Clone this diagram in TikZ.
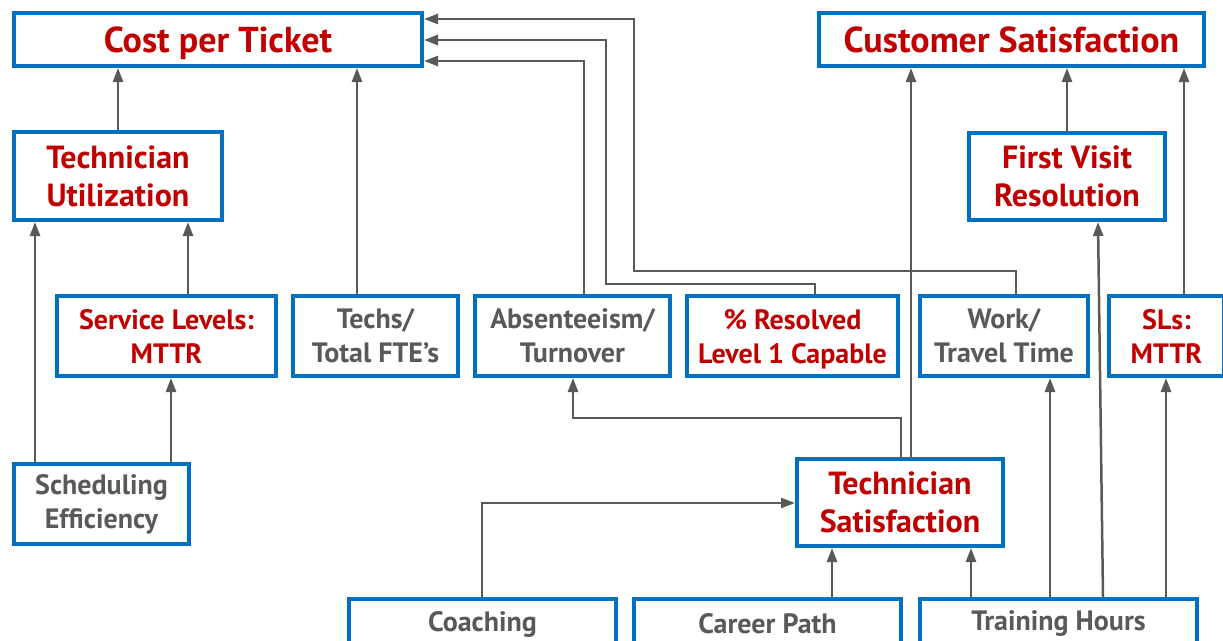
\documentclass[tikz,border=0pt]{standalone}
\usepackage{fontspec}
\setmainfont{PT Sans}
\usetikzlibrary{arrows.meta}
\definecolor{boxblue}{RGB}{0,112,192}
\definecolor{txtred}{RGB}{192,0,0}
\definecolor{txtgray}{RGB}{89,89,89}
\definecolor{arrgray}{RGB}{89,89,89}
\newcommand\mybox[7]{\node[boxstyle,#6,minimum width={(#4-#2-4)*1pt},minimum height={(#5-#3-4)*1pt}] (#1) at ({(#2+#4)/2},{(#3+#5)/2}) {#7};}
\tikzset{
  boxstyle/.style={draw=boxblue, line width=4pt, align=center, inner sep=0pt},
  redt/.style={text=txtred},
  grayt/.style={text=txtgray},
  bigf/.style={font=\bfseries\fontsize{36}{43}\selectfont},
  midf/.style={font=\bfseries\fontsize{32}{38}\selectfont},
  smallf/.style={font=\bfseries\fontsize{28}{34}\selectfont},
  arr/.style={draw=arrgray, line width=2.5pt, -{Triangle[length=14pt,width=10pt]}}
}
\begin{document}
\begin{tikzpicture}[x=1pt,y=-1pt]
\useasboundingbox (0,0) rectangle (1223,640);
\clip (0,0) rectangle (1223,640);
\fill[white] (0,0) rectangle (1223,640);
% nodes
\mybox{cpt}{12}{11}{424}{68}{redt,bigf,text depth=0pt}{Cost per Ticket}
\mybox{cs}{817}{11}{1206}{68}{redt,bigf}{Customer Satisfaction}
\mybox{tu}{12}{130}{224}{222}{redt,midf}{Technician\\Utilization}
\mybox{fvr}{967}{131}{1167}{222}{redt,midf}{First Visit\\Resolution}
\mybox{sl}{55}{294}{278}{378}{redt,smallf}{Service Levels:\\MTTR}
\mybox{techs}{291}{294}{460}{378}{grayt,smallf}{Techs/\\Total FTE’s}
\mybox{abs}{473}{294}{672}{378}{grayt,smallf}{Absenteeism/\\Turnover}
\mybox{res}{685}{294}{900}{378}{redt,smallf,text depth=0pt}{\% Resolved\\Level 1 Capable}
\mybox{wt}{918}{294}{1090}{378}{grayt,smallf}{Work/\\Travel Time}
\mybox{sls}{1107}{294}{1226}{378}{redt,smallf}{SLs:\\MTTR}
\mybox{se}{12}{462}{191}{546}{grayt,smallf}{Scheduling\\Efficiency}
\mybox{ts}{795}{457}{1005}{548}{redt,midf}{Technician\\Satisfaction}
\mybox{coach}{347}{597}{618}{651}{grayt,smallf}{Coaching}
\mybox{cp}{632}{597}{903}{651}{grayt,smallf}{Career Path}
\mybox{th}{918}{597}{1199}{651}{grayt,smallf}{Training Hours}
% connectors
\draw[arr] (tu.north) -- (cpt.south -| tu.north);
\draw[arr] (techs.north -| 357,0) -- (cpt.south -| 357,0);
\draw[arr] (se.north -| 35,0) -- (tu.south -| 35,0);
\draw[arr] (sl.north -| 188,0) -- (tu.south -| 188,0);
\draw[arr] (se.north -| 171,0) -- (sl.south -| 171,0);
\draw[arr] (abs.north -| 584,0) |- (cpt.east |- 0,61);
\draw[arr] (res.north -| 815,0) |- (606,284) |- (cpt.east |- 0,40);
\draw[arr] (wt.north -| 1016,0) |- (634,271) |- (cpt.east |- 0,19);
\draw[arr] (ts.north -| 911,0) -- (cs.south -| 911,0);
\draw[arr] (ts.north -| 901,0) |- (573,418) -- (abs.south -| 573,0);
\draw[arr] (fvr.north -| 1067,0) -- (cs.south -| 1067,0);
\draw[arr] (sls.north -| 1184,0) -- (cs.south -| 1184,0);
\draw[arr] (coach.north -| 482,0) |- (ts.west |- 0,503);
\draw[arr] (cp.north -| 832,0) -- (ts.south -| 832,0);
\draw[arr] (th.north -| 971,0) -- (ts.south -| 971,0);
\draw[arr] (th.north -| 1050,0) -- (wt.south -| 1050,0);
\draw[arr] (th.north -| 1103,0) -- (fvr.south -| 1098,0);
\draw[arr] (th.north -| 1166,0) -- (sls.south -| 1166,0);
\end{tikzpicture}
\end{document}
